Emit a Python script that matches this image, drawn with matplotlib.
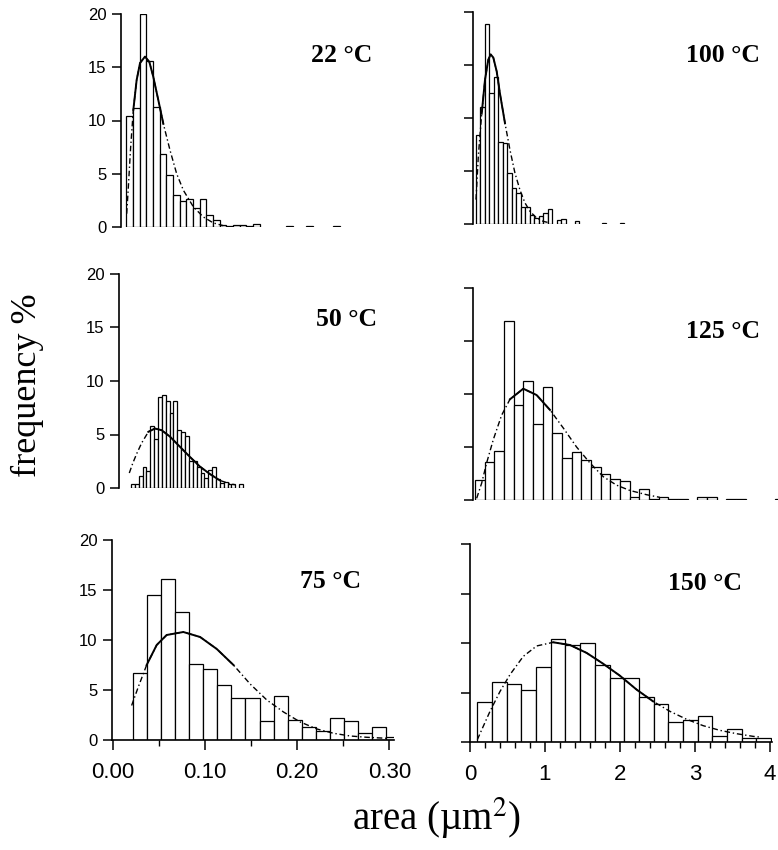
import matplotlib.pyplot as plt
import numpy as np

plt.rcParams['font.family'] = ['Liberation Sans', 'DejaVu Sans']
plt.rcParams['mathtext.fontset'] = 'stix'

# ---- data (frequency %, area in um^2) ----
# 22 C
h22 = [10.4, 11.2, 20.0, 15.6, 11.3, 6.9, 4.9, 3.0, 2.45, 2.6, 1.8, 2.6, 1.1, 0.7,
       0.15, 0.1, 0.2, 0.2, 0.1, 0.3, 0, 0, 0, 0, 0.1, 0, 0, 0.1, 0, 0, 0, 0.1]
start22, width22 = 0.0058, 0.00725
fx22 = [0.0062, 0.0080, 0.0105, 0.0134, 0.0170, 0.0207, 0.0261, 0.0308, 0.0351, 0.0406,
        0.046, 0.0533, 0.0605, 0.0678, 0.0786, 0.0895, 0.1004, 0.111]
fy22 = [1.25, 3.8, 7.5, 11.0, 13.8, 15.4, 16.0, 15.5, 14.1, 11.9,
        9.7, 7.2, 5.0, 3.45, 1.9, 0.94, 0.38, 0.13]

# 50 C
h50 = [0.4, 0.4, 1.1, 2.0, 1.6, 5.8, 4.6, 8.5, 8.7, 8.1, 7.0, 8.1, 5.4, 5.2, 4.9,
       2.5, 2.5, 2.0, 1.4, 0.9, 1.7, 2.0, 0.8, 0.5, 0.6, 0.4, 0.4, 0, 0.4]
start50, width50 = 0.013, 0.0042
fx50 = [0.0112, 0.0149, 0.0192, 0.0246, 0.0319, 0.0391, 0.0464, 0.0554, 0.0663,
        0.0772, 0.088, 0.0989, 0.1098, 0.1207, 0.126]
fy50 = [1.4, 2.3, 3.2, 4.2, 5.25, 5.56, 5.4, 4.8, 3.85, 2.9, 2.0, 1.3, 0.7, 0.4, 0.3]

# 75 C
h75 = [6.7, 14.5, 16.1, 12.8, 7.6, 7.1, 5.55, 4.2, 4.2, 1.9, 4.4, 2.05, 1.3, 0.95,
       2.2, 1.9, 0.7, 1.3, 0.3]
start75, width75 = 0.0214, 0.0153
fx75 = [0.0203, 0.0275, 0.0366, 0.0475, 0.0583, 0.0764, 0.0946, 0.1127, 0.1308,
        0.1489, 0.1670, 0.1851, 0.2033, 0.2214, 0.2395, 0.2576, 0.2757, 0.2975]
fy75 = [3.45, 5.3, 7.5, 9.5, 10.5, 10.8, 10.3, 9.1, 7.5, 5.6, 4.0, 2.8, 1.8, 1.1,
        0.67, 0.4, 0.27, 0.17]

# 100 C
h100 = [8.4, 11.0, 18.9, 12.4, 13.9, 7.7, 7.6, 4.8, 3.4, 2.95, 1.6, 1.6, 0.85, 0.55,
        0.75, 1.05, 1.4, 0, 0.35, 0.5, 0, 0, 0.25, 0, 0, 0, 0, 0, 0.1, 0, 0, 0, 0.1]
start100, width100 = 0.04, 0.06
fx100 = [0.04, 0.071, 0.116, 0.16, 0.204, 0.236, 0.271, 0.316, 0.36, 0.427, 0.493,
         0.56, 0.627, 0.693, 0.76, 0.849, 0.938, 1.027]
fy100 = [2.3, 6.4, 10.4, 13.6, 15.5, 16.0, 15.7, 14.4, 12.3, 9.5, 7.0, 4.8, 3.2,
         2.0, 1.2, 0.56, 0.25, 0.1]

# 125 C
h125 = [1.9, 3.6, 4.6, 16.9, 9.0, 11.2, 7.2, 10.7, 6.3, 4.0, 4.5, 3.8, 3.1, 2.5,
        2.0, 1.8, 0.25, 1.0, 0.1, 0.25, 0.05, 0.05, 0, 0.25, 0.25, 0, 0.05, 0.05,
        0, 0, 0, 0.1]
start125, width125 = 0.027, 0.129
fx125 = [0.049, 0.116, 0.182, 0.271, 0.382, 0.493, 0.671, 0.849, 1.027, 1.204,
         1.382, 1.56, 1.738, 1.916, 2.093, 2.316, 2.493]
fy125 = [0.16, 1.6, 3.5, 5.7, 8.0, 9.5, 10.5, 9.9, 8.5, 6.8, 5.0, 3.5, 2.2, 1.4,
         0.9, 0.5, 0.25]

# 150 C
h150 = [4.0, 6.1, 5.9, 5.3, 7.6, 10.4, 9.8, 10.0, 7.8, 6.5, 6.5, 4.5, 3.8, 2.05,
        2.2, 2.6, 0.64, 1.3, 0.4, 0.44]
start150, width150 = 0.098, 0.196
fx150 = [0.098, 0.178, 0.267, 0.4, 0.533, 0.711, 0.889, 1.111, 1.333, 1.556, 1.778,
         2.0, 2.222, 2.444, 2.667, 2.889, 3.111, 3.333, 3.556, 3.778, 3.867]
fy150 = [0.24, 1.6, 3.1, 5.1, 6.8, 8.65, 9.7, 10.07, 9.8, 9.0, 7.9, 6.7, 5.3, 4.1,
         3.1, 2.3, 1.65, 1.18, 0.84, 0.57, 0.5]

W, H = 778, 850
fig = plt.figure(figsize=(W / 100, H / 100), dpi=100)


def px_axes(x0, x1, ytop, ybot):
    return fig.add_axes([x0 / W, 1 - ybot / H, (x1 - x0) / W, (ybot - ytop) / H])


def panel(box, xlim, start, width, heights, fx, fy, solid, label, lpos,
          left_labels, bottom=None):
    ax = px_axes(*box)
    heights = np.array(heights)
    lefts = start + width * np.arange(len(heights))
    keep = heights > 0
    ax.bar(lefts[keep], heights[keep], width=width, align='edge',
           facecolor='white', edgecolor='black', linewidth=0.9)
    fx = np.array(fx)
    fy = np.array(fy)
    ax.plot(fx, fy, color='black', lw=1.0, ls=(0, (4, 2, 1, 2)))
    m = (fx >= solid[0]) & (fx <= solid[1])
    ax.plot(fx[m], fy[m], color='black', lw=1.4)
    ax.set_xlim(*xlim)
    ax.set_ylim(0, 20)
    for s in ['top', 'right']:
        ax.spines[s].set_visible(False)
    ax.spines['left'].set_linewidth(1.2)
    ax.set_yticks([0, 5, 10, 15, 20])
    ax.tick_params(axis='y', direction='out', length=6.5, width=1.1,
                   labelsize=12, pad=4)
    if not left_labels:
        ax.set_yticklabels([])
    if bottom is None:
        ax.spines['bottom'].set_visible(False)
        ax.set_xticks([])
    else:
        major, minor, labels = bottom
        ax.spines['bottom'].set_linewidth(1.2)
        ax.set_xticks(major)
        ax.set_xticklabels(labels)
        ax.set_xticks(minor, minor=True)
        ax.tick_params(axis='x', which='major', direction='out', length=7.5,
                       width=1.1, labelsize=16, pad=8)
        ax.tick_params(axis='x', which='minor', direction='out', length=4.5,
                       width=1.0)
    fig.text(lpos[0] / W, 1 - lpos[1] / H, label, ha='center', va='center',
             family=['Liberation Serif', 'DejaVu Serif'], fontweight='bold',
             fontsize=18.5)
    return ax


panel((121, 397, 14, 227), (0, 0.30), start22, width22, h22, fx22, fy22,
      (0.013, 0.05), '22 °C', (342, 56), True)
panel((119, 395, 274, 488), (0, 0.30), start50, width50, h50, fx50, fy50,
      (0.03, 0.11), '50 °C', (346, 319), True)
panel((112, 394, 540, 740), (-0.001, 0.305), start75, width75, h75, fx75, fy75,
      (0.035, 0.145), '75 °C', (330, 581), True,
      ([0, 0.1, 0.2, 0.3], [0.05, 0.15, 0.25], ['0.00', '0.10', '0.20', '0.30']))
panel((473, 778, 12, 224), (0, 4.07), start100, width100, h100, fx100, fy100,
      (0.1, 0.45), '100 °C', (723, 55), False)
panel((473, 778, 288, 500), (0, 4.07), start125, width125, h125, fx125, fy125,
      (0.4, 1.2), '125 °C', (723, 331), False)
panel((470, 772, 544, 742), (0, 4.03), start150, width150, h150, fx150, fy150,
      (0.9, 2.6), '150 °C', (705, 584), False,
      ([0, 1, 2, 3, 4], np.arange(0.2, 4.0, 0.2), ['0', '1', '2', '3', '4']))

fig.text(27 / W, 1 - 385 / H, 'frequency %', rotation=90, ha='center',
         va='center', family=['Liberation Serif', 'DejaVu Serif'], fontsize=26)
fig.text(437 / W, 1 - 818 / H, 'area (µm$^{2}$)', ha='center', va='center',
         family=['Liberation Serif', 'DejaVu Serif'], fontsize=28)

fig.savefig('out.png', dpi=100)
